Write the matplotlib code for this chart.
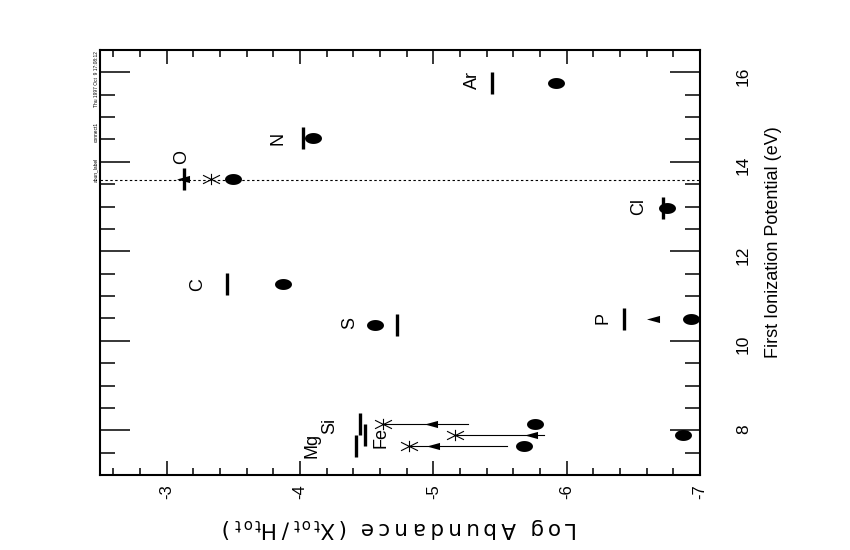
import numpy as np
import matplotlib
matplotlib.use("Agg")
import matplotlib.pyplot as plt
from matplotlib.path import Path
from matplotlib.ticker import MultipleLocator

plt.rcParams['axes.unicode_minus'] = False

# ---------------- data ----------------
elements = ["C", "N", "O", "Mg", "Si", "S", "Ar", "Fe", "P", "Cl"]
fip = [11.26, 14.53, 13.62, 7.65, 8.15, 10.36, 15.76, 7.90, 10.49, 12.97]

# solar/standard abundances (bars)
bar_abund = [-3.45, -4.02, -3.13, -4.42, -4.45, -4.73, -5.44, -4.49, -6.43, -6.72]
# measured abundances (filled circles)
circ_abund = [-3.87, -4.10, -3.50, -5.68, -5.76, -4.56, -5.92, -6.87, -6.93, -6.75]

# asterisk points
ast_elements = ["O", "Mg", "Si", "Fe"]
ast_abund = [-3.33, -4.82, -4.62, -5.16]

# lower limits (triangles)
tri_elements = ["O", "P", "Mg", "Si", "Fe"]
tri_abund = [-3.12, -6.65, -5.00, -4.98, -5.73]

# arrow lines: from asterisk to these values
arrow_elements = ["Mg", "Si", "Fe"]
arrow_end = [-5.55, -5.26, -5.83]

# element label positions (log abundance, FIP)
label_abund = [-3.235, -3.835, -3.115, -4.09, -4.22, -4.375, -5.29, -4.61, -6.27, -6.54]
label_fip = [11.25, 14.53, 14.11, 7.67, 8.10, 10.40, 15.83, 7.83, 10.51, 13.01]

h_fip = 13.6

x_ticks = [-3, -4, -5, -6, -7]
y_ticks = [8, 10, 12, 14, 16]

fip_of = dict(zip(elements, fip))

# ---------------- markers ----------------
t = np.linspace(0, 2 * np.pi, 60)
ellipse = Path(np.column_stack([1.55 * np.cos(t), np.sin(t)]), closed=True)
ast_verts = [(0, -1), (0, 1), (-1.5, -0.75), (1.5, 0.75), (-1.5, 0.75), (1.5, -0.75)]
ast_codes = [Path.MOVETO, Path.LINETO] * 3
asterisk = Path(ast_verts, ast_codes)
tri = Path([(-1, 0), (1, 0.55), (1, -0.55), (-1, 0)],
           [Path.MOVETO, Path.LINETO, Path.LINETO, Path.CLOSEPOLY])

# ---------------- figure ----------------
fig = plt.figure(figsize=(8.5, 5.5), dpi=100)
ax = fig.add_axes([100 / 850, 75 / 550, 600 / 850, 425 / 550])

ax.set_xlim(-2.5, -7)
ax.set_ylim(7, 16.5)

ax.axhline(h_fip, color='k', lw=0.8, ls=(0, (2.2, 2.2)))

# bars
ax.plot(bar_abund, fip, ls='none', marker='|', ms=15.8, mew=2.4, color='k')
# circles
ax.plot(circ_abund, fip, ls='none', marker=ellipse, ms=12.2, color='k', mew=0)
# arrows
for el, end in zip(arrow_elements, arrow_end):
    a = ast_abund[ast_elements.index(el)]
    ax.plot([a, end], [fip_of[el], fip_of[el]], color='k', lw=0.8)
# asterisks
ax.plot(ast_abund, [fip_of[e] for e in ast_elements], ls='none', marker=asterisk,
        ms=12.2, mew=0.8, mfc='none', mec='k')
# triangles
ax.plot(tri_abund, [fip_of[e] for e in tri_elements], ls='none', marker=tri,
        ms=9.4, color='k', mew=0)

for el, xa, yf in zip(elements, label_abund, label_fip):
    ax.text(xa, yf, el, rotation=90, ha='center', va='center', fontsize=13,
            family=['Liberation Sans', 'DejaVu Sans'])

# ticks
ax.xaxis.set_minor_locator(MultipleLocator(0.2))
ax.yaxis.set_minor_locator(MultipleLocator(0.5))
ax.set_xticks(x_ticks)
ax.set_xticklabels([str(v) for v in x_ticks])
ax.set_yticks(y_ticks)
ax.set_yticklabels([str(v) for v in y_ticks])

ax.tick_params(axis='both', which='both', direction='in', top=True, bottom=True,
               left=True, right=True, color='k')
ax.tick_params(axis='x', which='major', length=10, width=1.1, pad=6.5,
               labelrotation=90, labelsize=12)
ax.tick_params(axis='x', which='minor', length=5, width=1.1)
ax.tick_params(axis='y', which='major', length=21.6, width=1.1, pad=26,
               labelrotation=90, labelsize=12.5, labelleft=False, labelright=True)
ax.tick_params(axis='y', which='minor', length=10.8, width=1.1)
for lab in ax.get_xticklabels() + ax.get_yticklabels():
    lab.set_family(['Liberation Sans', 'DejaVu Sans'])

for s in ax.spines.values():
    s.set_linewidth(1.5)

fig.text(773 / 850, 1 - 242 / 550, "First Ionization Potential (eV)", rotation=90,
         ha='center', va='center', fontsize=13,
         family=['Liberation Sans', 'DejaVu Sans'])

ts = "\u2009"
ylabel_txt = (ts.join("Log") + "  " + ts.join("Abundance") + "  " +
              "(" + ts + "X" + r"$_{\rm t\,o\,t}$" + ts + "/" + ts + "H" +
              r"$_{\rm t\,o\,t}$" + ts + ")")
fig.text(400 / 850, 1 - 528 / 550, ylabel_txt, rotation=180,
         ha='center', va='center', fontsize=15.5, family='DejaVu Sans')

# small stamp text
stamp = [("abun_label", 170), ("connect1", 132), ("Thu 1997 Oct  9 17:08:12", 79)]
for txt, yp in stamp:
    fig.text(96 / 850, 1 - yp / 550, txt, rotation=90, ha='center', va='center',
             fontsize=3.5, family=['Liberation Sans', 'DejaVu Sans'])

fig.savefig("out.png", dpi=100)
